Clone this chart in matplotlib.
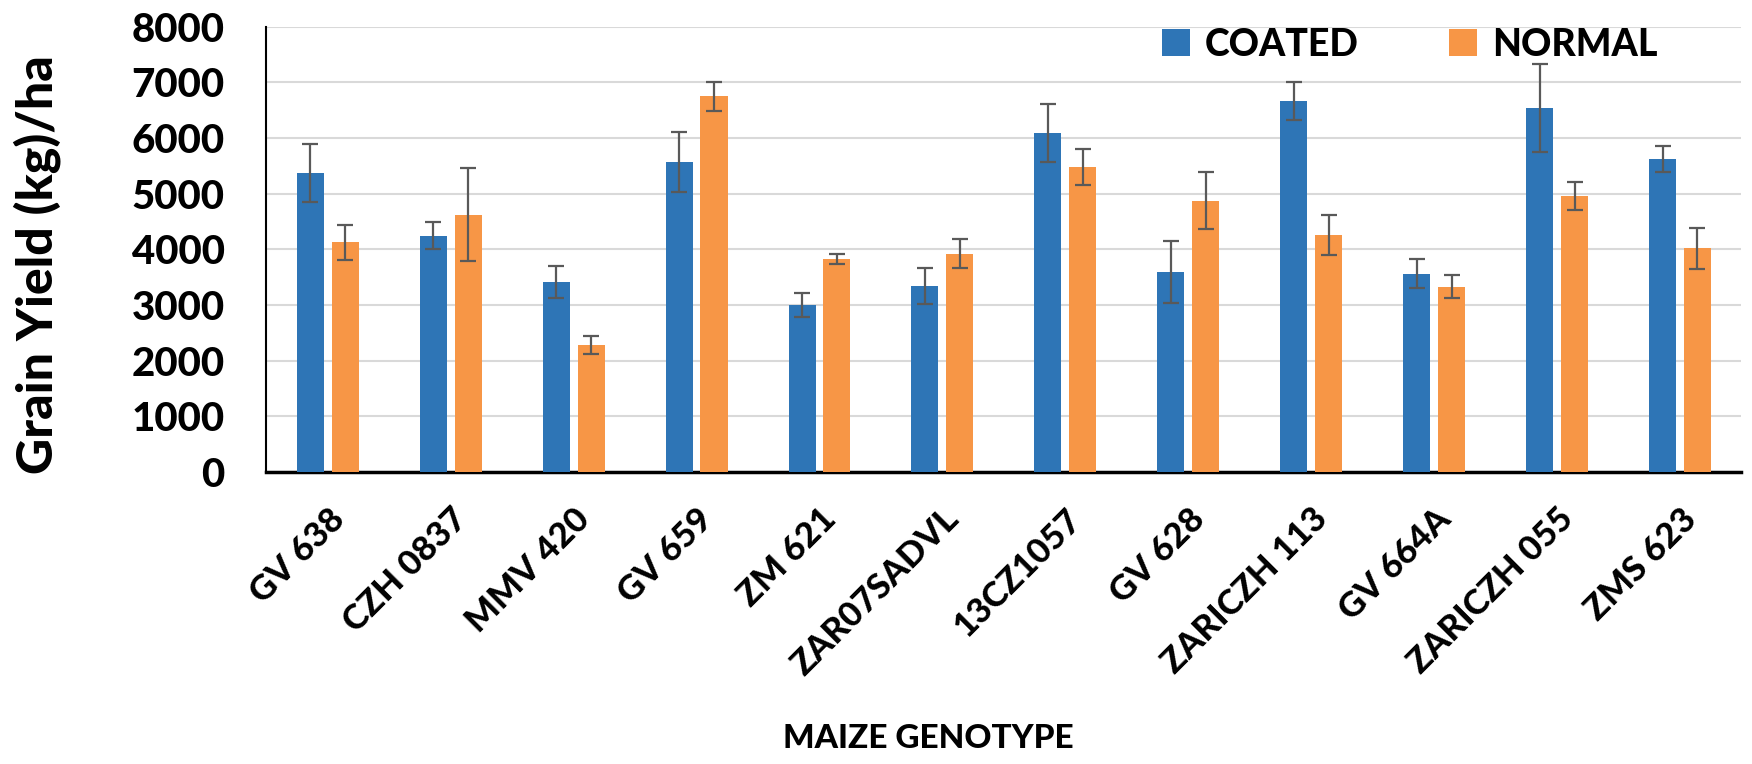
import matplotlib.pyplot as plt
import numpy as np

plt.rcParams['font.family'] = ['Lato', 'DejaVu Sans']

genotypes = ["GV 638", "CZH 0837", "MMV 420", "GV 659", "ZM 621", "ZAR07SADVL",
             "13CZ1057", "GV 628", "ZARICZH 113", "GV 664A", "ZARICZH 055", "ZMS 623"]
coated = [5370, 4250, 3420, 5570, 3010, 3345, 6090, 3595, 6670, 3565, 6540, 5620]
coated_err = [520, 250, 290, 540, 215, 325, 525, 550, 345, 265, 790, 230]
normal = [4125, 4625, 2280, 6750, 3825, 3925, 5485, 4875, 4260, 3330, 4965, 4020]
normal_err = [320, 840, 160, 265, 92, 255, 322, 510, 352, 206, 250, 372]

blue = '#2E75B6'
orange = '#F79646'
wt = 'black'

fig = plt.figure(figsize=(17.52, 7.64), dpi=100)
ax = fig.add_axes([0.152, 0.382, 0.842, 0.583])

x = np.arange(len(genotypes))
w = 0.22
off = 0.142
err_kw = dict(ecolor='#595959', elinewidth=1.6, capsize=6, capthick=1.6)
ax.bar(x - off, coated, w, yerr=coated_err, color=blue, label='COATED', error_kw=err_kw, zorder=3)
ax.bar(x + off, normal, w, yerr=normal_err, color=orange, label='NORMAL', error_kw=err_kw, zorder=3)

ax.set_xlim(-0.5, len(genotypes) - 0.5)
ax.set_ylim(0, 8000)
ax.set_yticks(np.arange(0, 8001, 1000))
ax.yaxis.grid(True, color='#D9D9D9', linewidth=1.5, zorder=0)
ax.set_axisbelow(True)
ax.tick_params(length=0)
ax.tick_params(axis='y', labelsize=29, pad=30)
for lab in ax.get_yticklabels():
    lab.set_fontweight(wt)

ax.set_xticks(x)
ax.set_xticklabels(genotypes, rotation=45, ha='right', rotation_mode='anchor',
                   fontsize=25, fontweight=wt)
ax.tick_params(axis='x', pad=22)

for s in ['top', 'right']:
    ax.spines[s].set_visible(False)
ax.spines['bottom'].set_linewidth(2.5)
ax.spines['left'].set_linewidth(1.5)

ax.set_ylabel('Grain Yield (kg)/ha', fontsize=36, fontweight=wt)
ax.yaxis.set_label_coords(-0.139, 0.467)
fig.text(0.53, 0.033, 'MAIZE GENOTYPE', ha='center', va='center', fontsize=24, fontweight=wt)

ax.legend(loc='center', bbox_to_anchor=(0.775, 0.96), ncol=2, frameon=False,
          prop={'size': 27, 'weight': wt}, handlelength=0.75, handleheight=0.75,
          columnspacing=2.4, handletextpad=0.4)

fig.savefig('out.png', dpi=100)
